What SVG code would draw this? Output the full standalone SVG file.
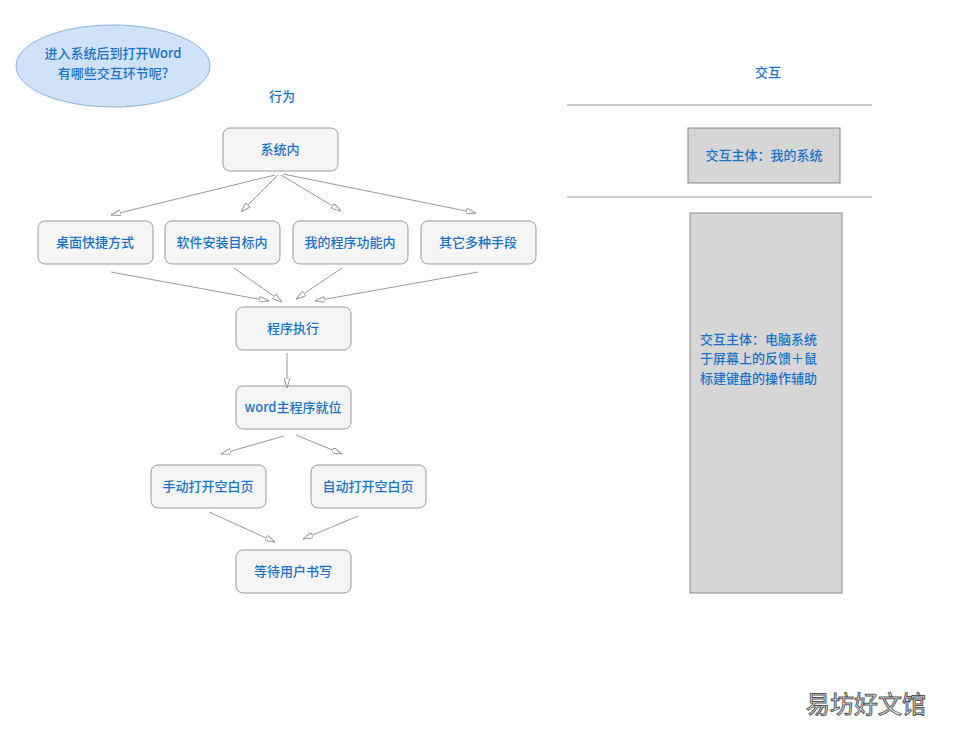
<svg xmlns="http://www.w3.org/2000/svg" width="953" height="736" viewBox="0 0 953 736">
<defs>
<marker id="ah" viewBox="0 0 10 6" refX="10" refY="3" markerWidth="10" markerHeight="6" markerUnits="userSpaceOnUse" orient="auto">
<path d="M0,0 L10,3 L0,6 Z" fill="#fff" stroke="#999" stroke-width="1"/>
</marker>
<style>
.n rect{fill:#f5f5f5;stroke:#999;stroke-width:1}
text{font-family:"Noto Sans CJK SC","Noto Sans",sans-serif;font-size:13px;font-weight:500;fill:#1a73c8}
.c{text-anchor:middle}
#edges line{stroke:#999;stroke-width:1;marker-end:url(#ah)}
</style>
</defs>
<rect width="953" height="736" fill="#fff"/>
<g id="question"><ellipse cx="113" cy="66" rx="97" ry="41" fill="#cfe2f7" stroke="#8ab4e0"/>
<text class="c" x="113" y="58">进入系统后到打开Word</text><text class="c" x="113" y="78">有哪些交互环节呢?</text></g>
<text class="c" x="282" y="101">行为</text>
<text class="c" x="768" y="77">交互</text>
<line x1="567" y1="105" x2="872" y2="105" stroke="#999"/>
<line x1="567" y1="197" x2="872" y2="197" stroke="#999"/>
<g id="inter1"><rect x="688" y="128" width="152" height="55" fill="#d6d6d6" stroke="#888"/><text class="c" x="764" y="160">交互主体：我的系统</text></g>
<g id="inter2"><rect x="690" y="213" width="152" height="380" fill="#d6d6d6" stroke="#888"/>
<text x="700" y="344">交互主体：电脑系统</text><text x="700" y="363">于屏幕上的反馈＋鼠</text><text x="700" y="383">标建键盘的操作辅助</text></g>
<g id="n1" class="n"><rect x="223" y="128" width="115" height="43" rx="7"/><text class="c" x="280" y="154">系统内</text></g>
<g id="n2" class="n"><rect x="38" y="221" width="115" height="43" rx="7"/><text class="c" x="95" y="247">桌面快捷方式</text></g>
<g id="n3" class="n"><rect x="165" y="221" width="115" height="43" rx="7"/><text class="c" x="222" y="247">软件安装目标内</text></g>
<g id="n4" class="n"><rect x="293" y="221" width="115" height="43" rx="7"/><text class="c" x="350" y="247">我的程序功能内</text></g>
<g id="n5" class="n"><rect x="421" y="221" width="115" height="43" rx="7"/><text class="c" x="478" y="247">其它多种手段</text></g>
<g id="n6" class="n"><rect x="236" y="307" width="115" height="43" rx="7"/><text class="c" x="293" y="333">程序执行</text></g>
<g id="n7" class="n"><rect x="236" y="386" width="115" height="43" rx="7"/><text class="c" x="293" y="412">word主程序就位</text></g>
<g id="n8" class="n"><rect x="151" y="465" width="115" height="43" rx="7"/><text class="c" x="208" y="491">手动打开空白页</text></g>
<g id="n9" class="n"><rect x="311" y="465" width="115" height="43" rx="7"/><text class="c" x="368" y="491">自动打开空白页</text></g>
<g id="n10" class="n"><rect x="236" y="550" width="115" height="43" rx="7"/><text class="c" x="293" y="576">等待用户书写</text></g>
<g id="edges">
<line x1="275" y1="175" x2="111" y2="215"/>
<line x1="278" y1="175" x2="241" y2="212"/>
<line x1="281" y1="175" x2="341" y2="211"/>
<line x1="283" y1="174" x2="476" y2="213"/>
<line x1="111" y1="272" x2="269" y2="301"/>
<line x1="234" y1="268" x2="282" y2="302"/>
<line x1="342" y1="268" x2="296" y2="299"/>
<line x1="478" y1="272" x2="315" y2="301"/>
<line x1="287" y1="353" x2="287" y2="388"/>
<line x1="284" y1="436" x2="221" y2="454"/>
<line x1="296" y1="435" x2="342" y2="454"/>
<line x1="209" y1="512" x2="275" y2="542"/>
<line x1="358" y1="516" x2="303" y2="539"/>
</g>
<text x="866" y="713" text-anchor="middle" style="font-size:24px;font-weight:400;fill:#fff;stroke:#555;stroke-width:1">易坊好文馆</text>
</svg>
